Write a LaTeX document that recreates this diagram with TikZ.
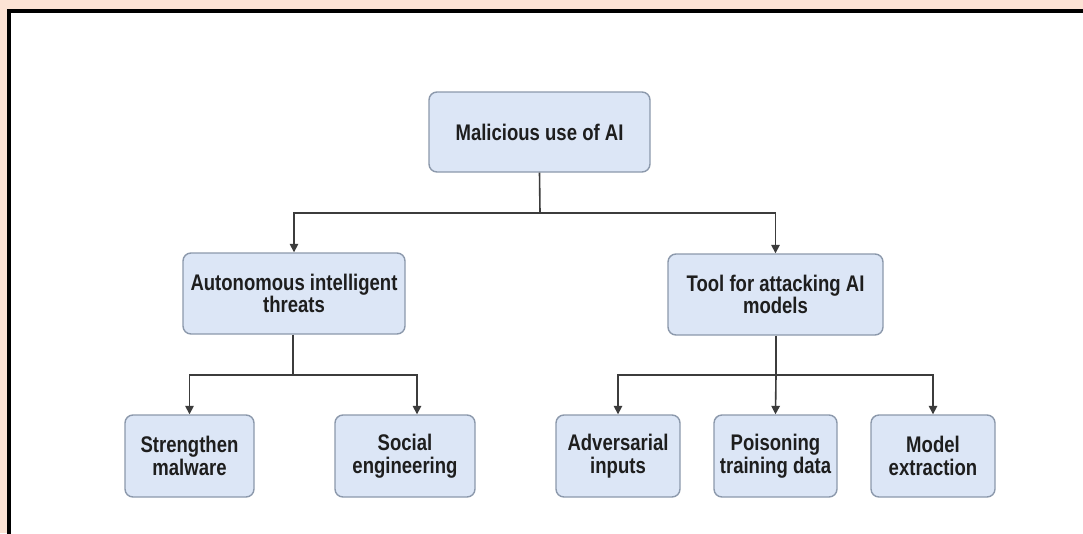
\documentclass[tikz,border=0pt]{standalone}
\usepackage{fontspec}
\setmainfont[FakeStretch=0.82]{Liberation Sans}
\usetikzlibrary{arrows.meta}
\definecolor{peach}{HTML}{FCE3D5}
\definecolor{boxfill}{HTML}{DCE6F6}
\definecolor{boxline}{HTML}{8C99AC}
\definecolor{linecol}{HTML}{3C3C3C}
\definecolor{txt}{HTML}{1E1E1E}
\tikzset{
  box/.style={draw=boxline, line width=1.4pt, fill=boxfill, rounded corners=8pt,
    align=center, inner sep=0pt, text=txt,
    font=\fontsize{22.6}{22.5}\selectfont\bfseries},
  conn/.style={draw=linecol, line width=1.6pt},
  arr/.style={conn, -{Triangle[length=8.5pt,width=8.5pt]}}
}
\begin{document}
\begin{tikzpicture}[x=1pt,y=-1pt]
\useasboundingbox (0,0) rectangle (1083,533);
\clip (0,0) rectangle (1083,533);
\fill[peach] (0,0) rectangle (1083,533);
\fill[white] (9.3,11.2) rectangle (1090,540);
\draw[black, line width=4.2pt] (9.3,540) -- (9.3,11.2) -- (1090,11.2);

\node[box, minimum width=221pt, minimum height=80pt] (root) at (539.5,132) {Malicious use of AI};
\node[box, minimum width=222pt, minimum height=81pt] (auto) at (294,293.5) {Autonomous intelligent\\threats};
\node[box, minimum width=215pt, minimum height=81pt] (tool) at (775.5,294.5) {Tool for attacking AI\\models};
\node[box, minimum width=129pt, minimum height=82pt] (malw) at (189.5,456) {Strengthen\\malware};
\node[box, minimum width=140pt, minimum height=82pt] (soc) at (405,456) {Social\\engineering};
\node[box, minimum width=124pt, minimum height=82pt] (adv) at (618,456) {Adversarial\\inputs};
\node[box, minimum width=123pt, minimum height=82pt] (pois) at (775.5,456) {Poisoning\\training data};
\node[box, minimum width=124pt, minimum height=82pt] (extr) at (933,456) {Model\\extraction};

\coordinate (j1) at (540,213);
\coordinate (j2) at (293,375);
\coordinate (j3) at (776,375);
\coordinate (socin) at ([xshift=12pt]soc.north);

\draw[conn] (root.south) -- (j1);
\draw[arr] (j1) -| (auto.north);
\draw[arr] (j1) -| (tool.north);

\draw[conn] (auto.south -| j2) -- (j2);
\draw[arr] (j2) -| (malw.north);
\draw[arr] (j2) -| (socin);

\draw[conn] (tool.south -| j3) -- (j3);
\draw[arr] (j3) -| (adv.north);
\draw[arr] (j3) -- (pois.north);
\draw[arr] (j3) -| (extr.north);
\end{tikzpicture}
\end{document}
